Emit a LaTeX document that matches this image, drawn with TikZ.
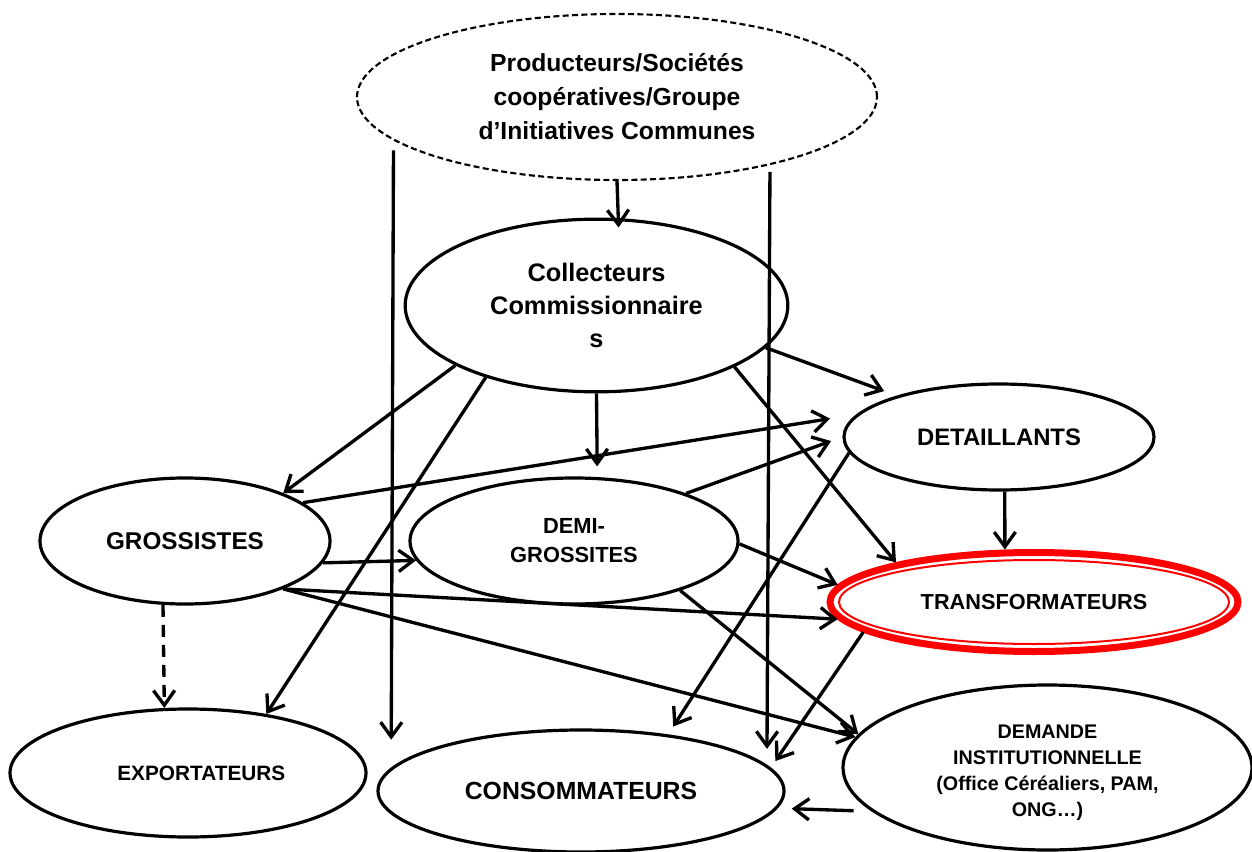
\documentclass[tikz,border=0pt]{standalone}
\usepackage{fontspec}
\setmainfont{Liberation Sans}
\usetikzlibrary{shapes.geometric,arrows.meta}
\begin{document}
\begin{tikzpicture}[x=0.75pt,y=-0.75pt,
  ell/.style={ellipse, draw, line width=2.4pt, inner sep=0pt},
  lab/.style={align=center, inner sep=0pt},
  arr/.style={-{Straight Barb[length=11pt,width=16pt]}, line width=2.5pt},
  dasharr/.style={arr, dash pattern=on 9pt off 6pt}]
\fill[white] (0,0) rectangle (1252,852);
\useasboundingbox (0,0) rectangle (1252,852);

\node[ell, line width=1.6pt, dash pattern=on 4.5pt off 2.5pt, minimum width=390pt, minimum height=124.5pt,
  label={[lab, font=\fontsize{18.5}{25.5}\selectfont\bfseries]center:{Producteurs/Sociétés\\coopératives/Groupe\\d’Initiatives Communes}}] (prod) at (617,97) {};
\node[ell, minimum width=287pt, minimum height=129.5pt,
  label={[lab, font=\fontsize{19}{24.75}\selectfont\bfseries]center:{Collecteurs\\Commissionnaire\\s}}] (coll) at (596.5,305.5) {};
\node[ell, minimum width=232.5pt, minimum height=79.5pt,
  label={[lab, font=\fontsize{17.9}{20}\selectfont\bfseries]center:{DETAILLANTS}}] (det) at (999,437) {};
\node[ell, minimum width=217.5pt, minimum height=94.5pt,
  label={[lab, font=\fontsize{18.2}{20}\selectfont\bfseries]center:{GROSSISTES}}] (gro) at (185,541) {};
\node[ell, minimum width=246pt, minimum height=94.5pt,
  label={[lab, font=\fontsize{16.4}{21.75}\selectfont\bfseries]center:{DEMI-\\GROSSITES}}] (demi) at (574,541) {};
\node[ell, draw=red, line width=5.25pt, minimum width=306pt, minimum height=74.25pt,
  label={[lab, font=\fontsize{16.3}{18}\selectfont\bfseries]center:{TRANSFORMATEURS}}] (tra) at (1034,602) {};
\draw[red, line width=1.5pt] (tra.center) ellipse [x radius=146.25pt, y radius=31.5pt];
\node[ell, minimum width=267pt, minimum height=96pt,
  label={[lab, xshift=10pt, font=\fontsize{15.6}{18}\selectfont\bfseries]center:{EXPORTATEURS}}] (exp) at (188,773) {};
\node[ell, minimum width=304.5pt, minimum height=91.5pt,
  label={[lab, font=\fontsize{18.6}{20}\selectfont\bfseries]center:{CONSOMMATEURS}}] (con) at (581,791) {};
\node[ell, minimum width=306.75pt, minimum height=123.75pt,
  label={[lab, yshift=-4pt, font=\fontsize{14.8}{19.5}\selectfont\bfseries]center:{DEMANDE\\INSTITUTIONNELLE\\(Office Céréaliers, PAM,\\ONG…)}}] (dem) at (1047.5,767.5) {};

% connectors
\draw[arr, shorten >=-7pt] (prod.-90) -- (coll.76.7);
\draw[arr, shorten <=7.5pt, shorten >=21pt] (prod.191.7) -- (con.173.7);
\draw[arr, shorten <=5pt, shorten >=12pt] (prod.-24.7) -- (con.8);
\draw[arr] (coll.203.2) -- (gro.26.6);
\draw[arr] (coll.213.3) -- (exp.37.3);
\draw[arr, shorten >=8pt] (coll.-90) -- (demi.70);
\draw[arr, shorten >=10pt] (coll.-14.8) -- (det.158.4);
\draw[arr] (coll.-24.3) -- (tra.164.8);
\draw[arr, shorten >=20pt] (gro.18.3) -- (det.171.8);
\draw[arr] (gro.-9.5) -- (demi.187.4);
\draw[arr] (gro.-26.1) -- (tra.185);
\draw[arr] (gro.-26.1) -- (dem.171.8);
\draw[dasharr] (gro.251.6) -- (exp.110.7);
\draw[arr, shorten >=9pt] (demi.23.7) -- (det.180.3);
\draw[arr] (demi.-1.4) -- (tra.175.5);
\draw[arr] (demi.-25.7) -- (dem.170.1);
\draw[arr] (det.-84.8) -- (tra.119.7);
\draw[arr, shorten >=7pt] (det.186.7) -- (con.33);
\draw[arr, shorten >=6pt] (tra.190.6) -- (con.7.3);
\draw[arr, shorten <=13.5pt, shorten >=10.5pt] (dem.194.5) -- (con.-5.9);
\end{tikzpicture}
\end{document}
